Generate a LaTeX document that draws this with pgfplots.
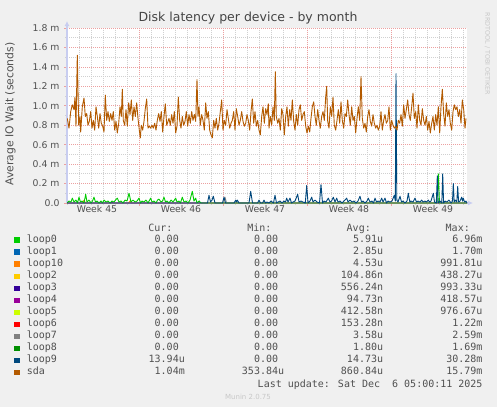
\documentclass[border=0pt]{standalone}
\usepackage{fontspec}
\setmainfont{DejaVu Sans}
\newfontfamily\monofont{DejaVu Sans Mono}
\usepackage{pgfplots}
\pgfplotsset{compat=1.18}
\usepackage{pgfplotstable}
\usetikzlibrary{arrows.meta}

\definecolor{bgcol}{RGB}{240,240,240}
\definecolor{txt}{RGB}{80,80,80}
\definecolor{faint}{RGB}{200,200,200}
\definecolor{gridred}{RGB}{236,160,160}
\definecolor{gridgray}{RGB}{208,208,208}
\definecolor{axiscol}{RGB}{200,205,240}
\definecolor{cloopA}{HTML}{00CC00}
\definecolor{cloopB}{HTML}{0066B3}
\definecolor{cloopK}{HTML}{FF8000}
\definecolor{cloopC}{HTML}{FFCC00}
\definecolor{cloopD}{HTML}{330099}
\definecolor{cloopE}{HTML}{990099}
\definecolor{cloopF}{HTML}{CCFF00}
\definecolor{cloopG}{HTML}{FF0000}
\definecolor{cloopH}{HTML}{808080}
\definecolor{cloopI}{HTML}{008F00}
\definecolor{cloopJ}{HTML}{00487D}
\definecolor{csda}{HTML}{B35A00}

% x: pixel offset inside the 400px plot, y: milliseconds
\pgfplotstableread{
x y
0.3 0.87
2 0.77
3.7 0.94
5.3 1.01
7 0.96
8 1.09
9 0.79
10.3 1.52
11.7 0.80
13 0.89
13.7 0.73
15.3 0.99
17 1.08
18.3 0.89
19.7 0.92
21 0.80
22.3 0.84
23.7 0.94
25 0.77
26.3 0.85
27.7 0.75
29 0.99
30.3 0.89
31.7 0.77
33 0.92
34.3 0.82
35.7 0.79
37 0.73
38.3 1.11
39.7 0.85
41 0.94
42.3 0.84
43.7 0.92
45 0.85
46.3 0.94
47.7 0.75
49 0.84
50.3 0.72
51.7 0.82
53 0.99
54.3 0.89
55.3 1.17
56.3 0.85
57.7 0.80
59 0.96
60.3 0.79
61.7 1.03
63 0.91
64.3 1.06
65.7 0.85
67 0.99
68.3 0.89
69.7 1.03
71 0.87
72.3 0.75
73.3 0.67
74.3 0.80
75.7 0.75
77 0.84
78.3 0.97
79.7 1.07
81 0.77
82.3 0.79
83.7 0.77
85 0.80
86.3 0.77
87.7 0.82
89 0.75
90.3 0.85
91.7 0.92
93 0.84
94.3 0.94
95.7 0.73
97 0.89
98.3 1.02
99.7 0.80
101 0.84
102 0.87
103.3 0.80
104.7 0.91
106 0.82
107.3 0.94
108.7 0.72
110 0.79
111.3 1.09
112.7 0.85
114 0.77
115.3 0.89
116.7 0.80
118 0.84
119.3 0.94
120.7 0.79
122 0.91
123.3 0.82
124.7 0.94
126 0.85
127.3 0.91
128.7 0.84
130 1.27
131 0.89
132 0.99
133.3 0.80
134.7 0.91
136 0.85
137.3 0.75
138.7 1.03
140 0.87
141.3 0.94
142.7 0.75
144 0.70
145.3 0.67
146.7 0.85
148 0.77
149.3 0.87
150.7 0.75
152 0.82
153.3 0.94
154.7 1.06
156 0.75
157.3 0.85
158.7 0.80
160 0.96
161.3 0.87
162.7 0.77
164 0.82
165.3 0.85
166.7 0.94
168 0.75
169.3 0.97
170.7 0.89
172 0.80
173.3 0.85
174.7 0.94
176 0.84
177.3 0.79
178.7 0.82
180 0.91
181.3 0.85
182.7 0.75
184 0.94
185.3 1.07
186.7 0.82
188 0.94
189.3 0.79
190.7 0.85
192 0.75
193.3 0.70
194.7 0.89
196 0.99
197.3 0.82
198.7 0.97
200 0.91
201.3 1.02
202 0.77
203.3 0.89
204.7 0.80
206 0.99
207.3 0.85
208.3 1.35
209.3 0.89
210.7 0.82
212 0.87
213.3 0.75
214.7 0.97
216 0.91
217.3 0.70
218.7 0.89
220 0.99
221.3 0.79
222.7 0.96
224 0.85
225.3 1.06
226.7 0.84
228 0.75
229.3 0.91
230.7 0.80
232 0.96
233.3 1.01
234.7 0.85
236 0.91
237.3 0.94
238.7 0.79
240 0.72
241.3 0.79
242.7 0.73
244 0.87
245.3 0.99
246.7 1.04
248 0.89
249.3 0.80
250.7 0.96
252 0.85
253.3 0.77
254.7 0.89
256 0.94
257.3 0.85
258.7 1.09
259.7 1.20
260.7 0.84
262 0.77
263.3 0.99
264.7 0.89
266 1.09
267.3 0.80
268.7 0.75
270 0.85
271.3 0.96
272.7 0.82
274 1.04
275.3 0.85
276.7 0.77
278 0.92
279.3 0.89
280.7 1.06
282 0.91
283.3 0.80
284.7 0.99
286 0.85
287.3 0.89
288.7 0.72
290 0.87
291.3 0.99
292.7 0.85
294 1.30
295.3 0.87
296.7 0.77
298 0.82
299.3 0.73
300.7 0.89
302 0.96
303.3 0.84
304.7 0.79
306 0.91
307.3 0.82
308.7 0.77
310 0.80
311.3 0.75
312.7 0.79
314 0.94
315.3 0.75
316.7 0.85
318 0.91
319.3 0.82
320.7 0.85
322 0.99
323.3 0.75
324.7 0.85
326 0.80
327.3 0.77
328.7 0.79
330 0.75
331.3 0.85
332.7 0.82
334 0.91
335.3 0.79
336.7 1.01
338 0.87
339.3 0.96
340.7 1.06
342 0.91
343.3 0.85
344.7 0.99
346 1.13
347.3 0.87
348.7 0.94
350 0.77
351.3 1.01
352.7 0.85
354 0.80
355.3 0.97
356.7 0.85
358 0.80
359.3 0.89
360.7 0.75
362 0.84
363.3 0.72
364.7 0.82
366 0.89
367.3 0.75
368.7 0.91
370 0.80
371.3 0.99
372.7 0.72
374 0.99
375.3 1.17
376.7 0.91
378 0.79
379.3 1.03
380.7 0.89
382 0.96
383.3 0.82
384.7 0.75
386 0.94
387.3 1.01
388.7 0.96
390 0.99
391.3 0.89
392.7 0.96
394 0.82
395.3 1.06
396.7 0.96
398 0.77
399 0.87
}\sdadata

\pgfplotstableread{
x y
0 0
2 0.02
4 0.01
5.3 0.05
7 0.01
9 0.03
10.5 0
12 0.06
13.5 0.01
15 0.02
17 0
18.7 0.09
20 0.01
22 0.03
24 0
25.5 0.02
27 0.06
28.5 0.01
30 0.02
32 0
34 0.02
35.5 0
37 0.03
39 0.01
41 0.02
43 0
45 0.02
47 0.01
48.5 0.03
50.3 0.05
52 0.01
54 0.02
56 0
58 0.03
60 0.02
62 0.10
64 0.01
66 0.03
68 0.01
70 0.02
72 0.05
73.5 0
75 0.02
77 0.01
79 0.03
81 0
83.7 0.05
85 0.01
87 0.02
89 0
90.5 0.03
92 0.04
94 0.01
95.5 0.02
97 0.06
98.5 0.01
100 0.02
102 0
104 0.03
106 0.01
108.7 0.05
110 0.01
112 0.02
113.5 0
115.3 0.06
117 0.01
119 0.02
121 0
123 0.03
125.3 0.12
127 0.02
128.7 0.05
130 0
132 0.02
134 0
370 0
371.3 0.30
372.5 0
400 0
}\loopzerodata

\pgfplotstableread{
x y
0 0
140.5 0
142 0.08
143.5 0.01
145 0.03
146.3 0.07
148 0
155.5 0
157 0.06
158.5 0
167 0
168.7 0.03
169.5 0.01
170.3 0.03
172 0
182 0
183.7 0.12
185.5 0
190.5 0
192 0.03
193.5 0
195.5 0
197 0.03
198.5 0
200 0.01
202 0
204 0.02
206.5 0
208 0.08
209.5 0
211 0.01
213 0.02
215 0
217 0.02
218.5 0.01
219.7 0.05
221 0.01
223 0.05
224.5 0
226 0.01
228 0.02
230.7 0.09
232 0.01
234 0.02
236 0.01
238.3 0
239.7 0.18
241 0
243 0.02
244.7 0.06
246 0.01
248 0.03
250 0.01
252.5 0
254 0.19
255.5 0
257 0.02
259 0.01
261.3 0.05
263 0.01
264.5 0.02
266.3 0.06
268 0.01
269.7 0.05
271 0.01
273 0.02
275 0
277 0.02
279.7 0.05
281 0.01
283 0.03
285 0.01
287 0.02
289 0
291 0.02
293 0.07
294.5 0.01
296 0.02
298 0
300 0.02
301.3 0.05
303 0.01
305 0.02
306.5 0
308 0.05
309.5 0.01
311 0.02
313 0.01
314.7 0.05
316 0.01
318 0.05
319.5 0
321 0.02
323 0.01
325 0.02
327.3 0.08
328.3 0.02
329 1.33
329.8 0.03
331 0.01
333 0.07
334.5 0.01
336 0.02
338 0
340 0.02
341.3 0.10
342.8 0.01
344 0.02
346 0.01
348 0.05
349.5 0.01
351 0.02
353 0.01
354.7 0.03
356 0.01
358 0.02
359.5 0.01
361.3 0.03
362.5 0.01
364 0.02
366.3 0.10
367.5 0.01
369.3 0
370.3 0.28
371.2 0
373 0.02
374.8 0
375.7 0.30
376.6 0
378 0.02
380 0.01
382 0.03
384 0
385.5 0.02
386.3 0.20
387.2 0.01
388.5 0.03
389.8 0.01
390.7 0.17
391.6 0.01
393 0.02
394.7 0.06
395.5 0.02
396.3 0.05
397.5 0.01
399 0.02
400 0
}\loopninedata

\newcommand{\nou}{\phantom{u}}
% legend row: baseline y, colour, name, cur, min, avg, max
\newcommand{\lrow}[7]{%
  \fill[#2] (14,{-#1-0.4}) rectangle (20,{-#1+5});
  \node[anchor=base west,inner sep=0,text=txt] at (26.7,-#1) {\monofont #3};
  \node[anchor=base east,inner sep=0,text=txt] at (185,-#1) {\monofont #4};
  \node[anchor=base east,inner sep=0,text=txt] at (284.3,-#1) {\monofont #5};
  \node[anchor=base east,inner sep=0,text=txt] at (383.3,-#1) {\monofont #6};
  \node[anchor=base east,inner sep=0,text=txt] at (482.7,-#1) {\monofont #7};
}

\begin{document}
\begin{tikzpicture}[x=1pt,y=1pt,font=\fontsize{10}{12}\selectfont]
\path[use as bounding box,fill=bgcol] (0,0) rectangle (497,-407);

\begin{axis}[
    at={(67pt,-203pt)}, anchor=south west,
    width=400pt, height=175pt, scale only axis,
    xmin=0, xmax=400, ymin=0, ymax=1.8,
    axis background/.style={fill=white},
    axis lines=left,
    axis line style={draw=axiscol, line width=1.2pt},
    x axis line style={-{Latex[length=5pt,width=5pt]}, shorten >=-6pt},
    y axis line style={-{Latex[length=5pt,width=5pt]}, shorten >=-7pt},
    xtick={72,156,240,324}, xticklabels={},
    minor xtick={0,12,...,396},
    extra x ticks={30,114,198,282,366},
    extra x tick labels={Week 45,Week 46,Week 47,Week 48,Week 49},
    extra x tick style={grid=none, major tick length=0pt},
    ytick={0,0.2,0.4,0.6,0.8,1.0,1.2,1.4,1.6,1.8},
    yticklabels={0.0,0.2 m,0.4 m,0.6 m,0.8 m,1.0 m,1.2 m,1.4 m,1.6 m,1.8 m},
    minor ytick={0.1,0.3,0.5,0.7,0.9,1.1,1.3,1.5,1.7},
    xmajorgrids, xminorgrids, ymajorgrids, yminorgrids,
    major grid style={draw=gridred, line width=0.7pt, dash pattern=on 1pt off 1pt},
    minor grid style={draw=gridgray, line width=0.7pt, dash pattern=on 1pt off 1pt},
    tick align=outside,
    major tick length=3pt, minor tick length=2pt,
    major tick style={draw=gridred, line width=0.7pt},
    minor tick style={draw=gridgray, line width=0.7pt},
    tick label style={font=\fontsize{9.3}{11}\selectfont, text=txt},
    yticklabel style={xshift=-1pt},
    xticklabel style={yshift=1pt},
    every axis plot/.append style={line width=0.9pt, line join=round},
]
\addplot[cloopK] coordinates {(0,0) (15.5,0) (17,0.03) (18.5,0) (61.5,0) (63,0.02) (64.5,0) (400,0)};
\addplot[cloopE] coordinates {(0,0) (44,0) (45,0.01) (46,0) (400,0)};
\addplot[cloopH] coordinates {(0,0) (156.5,0) (158,0.06) (159.5,0) (400,0)};
\addplot[cloopA] table[x=x,y=y] {\loopzerodata};
\addplot[cloopJ] table[x=x,y=y] {\loopninedata};
\addplot[csda] table[x=x,y=y] {\sdadata};
\end{axis}

% title, axis label, watermark
\node[text=txt!85!black,font=\fontsize{12.5}{14}\selectfont] at (248,-18) {Disk latency per device - by month};
\node[rotate=90,text=txt,font=\fontsize{10.8}{12}\selectfont] at (10.5,-114) {Average IO Wait (seconds)};
\node[rotate=-90,text=faint,font=\fontsize{6.4}{7}\selectfont] at (487.5,-54) {RRDTOOL / TOBI OETIKER};

% legend table
\node[anchor=base east,inner sep=0,text=txt] at (172.7,-231.5) {\monofont Cur:};
\node[anchor=base east,inner sep=0,text=txt] at (271.7,-231.5) {\monofont Min:};
\node[anchor=base east,inner sep=0,text=txt] at (371,-231.5) {\monofont Avg:};
\node[anchor=base east,inner sep=0,text=txt] at (470,-231.5) {\monofont Max:};
\lrow{242.3}{cloopA}{loop0}{0.00\nou}{0.00\nou}{5.91u}{6.96m}
\lrow{254.4}{cloopB}{loop1}{0.00\nou}{0.00\nou}{2.85u}{1.70m}
\lrow{266.4}{cloopK}{loop10}{0.00\nou}{0.00\nou}{4.53u}{991.81u}
\lrow{278.5}{cloopC}{loop2}{0.00\nou}{0.00\nou}{104.86n}{438.27u}
\lrow{290.5}{cloopD}{loop3}{0.00\nou}{0.00\nou}{556.24n}{993.33u}
\lrow{302.6}{cloopE}{loop4}{0.00\nou}{0.00\nou}{94.73n}{418.57u}
\lrow{314.7}{cloopF}{loop5}{0.00\nou}{0.00\nou}{412.58n}{976.67u}
\lrow{326.7}{cloopG}{loop6}{0.00\nou}{0.00\nou}{153.28n}{1.22m}
\lrow{338.8}{cloopH}{loop7}{0.00\nou}{0.00\nou}{3.58u}{2.59m}
\lrow{350.8}{cloopI}{loop8}{0.00\nou}{0.00\nou}{1.80u}{1.69m}
\lrow{362.9}{cloopJ}{loop9}{13.94u}{0.00\nou}{14.73u}{30.28m}
\lrow{374.9}{csda}{sda}{1.04m}{353.84u}{860.84u}{15.79m}
\node[anchor=base east,inner sep=0,text=txt] at (482.7,-387) {\monofont Last update: Sat Dec\ \ 6 05:00:11 2025};
\node[anchor=base,inner sep=0,text=faint,font=\fontsize{7}{8}\selectfont] at (248,-399) {Munin 2.0.75};
\end{tikzpicture}
\end{document}
